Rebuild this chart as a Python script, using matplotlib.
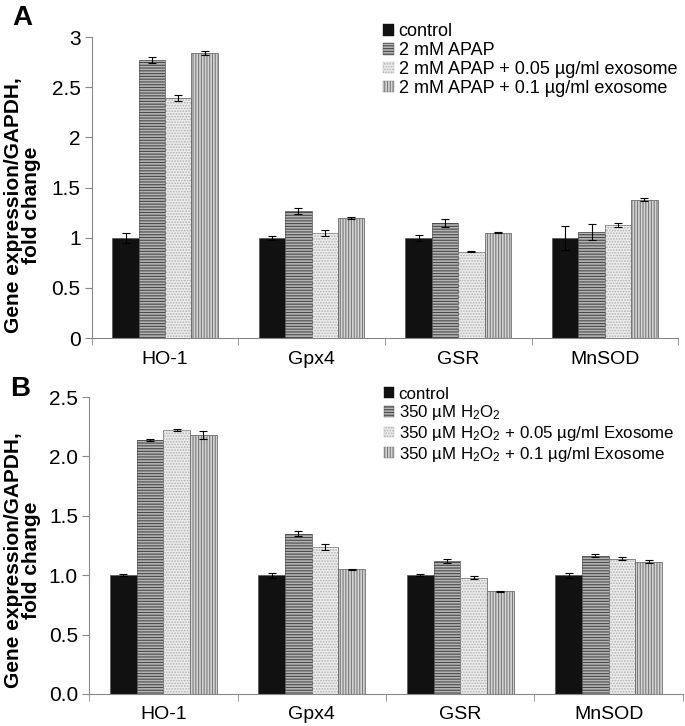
import matplotlib
matplotlib.use("Agg")
import matplotlib.pyplot as plt
import matplotlib.patches as mpatches
import numpy as np

plt.rcParams["font.family"] = ["Liberation Sans", "DejaVu Sans"]
plt.rcParams["mathtext.default"] = "regular"
plt.rcParams["hatch.linewidth"] = 0.8

genes = ["HO-1", "Gpx4", "GSR", "MnSOD"]

# panel A: APAP
labels_a = ["control", "2 mM APAP", "2 mM APAP + 0.05 µg/ml exosome",
            "2 mM APAP + 0.1 µg/ml exosome"]
vals_a = [
    [1.00, 1.00, 1.00, 1.00],
    [2.77, 1.27, 1.15, 1.06],
    [2.39, 1.05, 0.86, 1.13],
    [2.84, 1.20, 1.05, 1.38],
]
errs_a = [
    [0.05, 0.02, 0.03, 0.12],
    [0.03, 0.03, 0.04, 0.08],
    [0.03, 0.03, 0.005, 0.02],
    [0.02, 0.01, 0.005, 0.015],
]

# panel B: H2O2
labels_b = ["control", "350 µM H$_2$O$_2$",
            "350 µM H$_2$O$_2$ + 0.05 µg/ml Exosome",
            "350 µM H$_2$O$_2$ + 0.1 µg/ml Exosome"]
vals_b = [
    [1.00, 1.00, 1.00, 1.00],
    [2.14, 1.35, 1.12, 1.165],
    [2.22, 1.235, 0.98, 1.14],
    [2.18, 1.05, 0.865, 1.115],
]
errs_b = [
    [0.01, 0.02, 0.01, 0.02],
    [0.01, 0.02, 0.02, 0.01],
    [0.01, 0.025, 0.01, 0.01],
    [0.03, 0.005, 0.005, 0.015],
]

faces = ["#111111", "#b4b4b4", "#ececec", "#d4d4d4"]
hatch_cols = [None, "#4a4a4a", "#b0b0b0", "#7a7a7a"]
hatches = [None, "------", "......", "||||||"]

width = 0.18


def draw_panel(ax, vals, errs, labels, ymax, yticks, fmt, leg_y, leg_fs,
               lab_x, lab_y):
    x = np.arange(len(genes))
    handles = []
    for i in range(4):
        pos = x + (i - 1.5) * width
        ax.bar(pos, vals[i], width, color=faces[i], edgecolor="#555555",
               linewidth=0.5, zorder=2)
        if hatches[i]:
            ax.bar(pos, vals[i], width, facecolor="none",
                   edgecolor=hatch_cols[i], hatch=hatches[i], linewidth=0,
                   zorder=3)
        ax.errorbar(pos, vals[i], yerr=errs[i], fmt="none", ecolor="black",
                    elinewidth=0.8, capsize=3, capthick=0.8, zorder=4)
        handles.append(mpatches.Patch(facecolor=faces[i],
                                      edgecolor=hatch_cols[i] or "#111111",
                                      hatch=hatches[i], linewidth=0.3))
    ax.set_xlim(-0.5, 3.5)
    ax.set_ylim(0, ymax)
    ax.set_yticks(yticks)
    ax.set_yticklabels([fmt(t) for t in yticks])
    ax.set_xticks(x)
    ax.set_xticklabels(genes)
    ax.set_xticks(np.arange(-0.5, 4.0, 1.0), minor=True)
    ax.tick_params(axis="x", which="major", length=0, labelsize=14, pad=9)
    ax.tick_params(axis="x", which="minor", length=5, color="#888888",
                   direction="out")
    ax.tick_params(axis="y", length=5, color="#888888", labelsize=15, pad=3)
    for s in ["top", "right"]:
        ax.spines[s].set_visible(False)
    for s in ["left", "bottom"]:
        ax.spines[s].set_color("#888888")
        ax.spines[s].set_linewidth(0.8)
    ax.set_ylabel("Gene expression/GAPDH,\nfold change", fontsize=15,
                  fontweight="bold", linespacing=0.95)
    ax.yaxis.set_label_coords(lab_x, lab_y)
    ax.legend(handles, labels, loc="upper left",
              bbox_to_anchor=(0.497, leg_y),
              frameon=False, fontsize=leg_fs, handlelength=0.6,
              handleheight=0.6, handletextpad=0.25, labelspacing=0.1,
              borderpad=0, borderaxespad=0)


fig = plt.figure(figsize=(6.85, 7.26), dpi=100)
ax_a = fig.add_axes([0.134, 0.5344, 0.856, 0.4146])
ax_b = fig.add_axes([0.130, 0.0441, 0.867, 0.409])

draw_panel(ax_a, vals_a, errs_a, labels_a, 3, [0, 0.5, 1, 1.5, 2, 2.5, 3],
           lambda t: "%g" % t, 1.045, 13, -0.087, 0.44)
draw_panel(ax_b, vals_b, errs_b, labels_b, 2.5,
           [0, 0.5, 1.0, 1.5, 2.0, 2.5], lambda t: "%.1f" % t, 1.035, 12.2,
           -0.081, 0.45)

fig.text(0.018, 0.966, "A", fontsize=20, fontweight="bold")
fig.text(0.015, 0.455, "B", fontsize=20, fontweight="bold")

fig.savefig("out.png", dpi=100)
